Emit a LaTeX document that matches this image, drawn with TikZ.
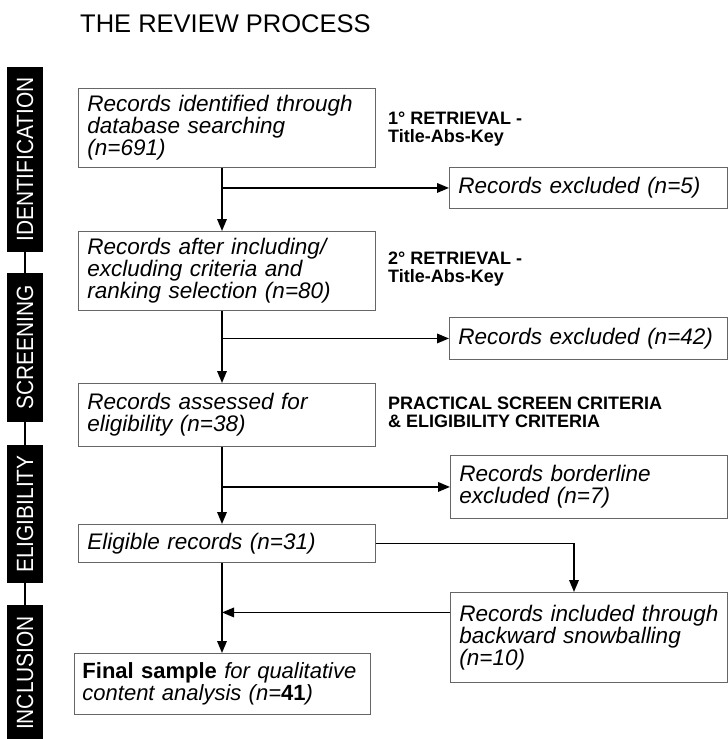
\documentclass[tikz,border=0pt]{standalone}
\usepackage{fontspec}
\setmainfont{Liberation Sans}
\usetikzlibrary{arrows.meta}
\newcommand\bxfont{\fontsize{22.5}{22}\selectfont\itshape}
\newcommand\brfont{\fontsize{23.5}{23.5}\selectfont}
\newcommand\lbfont{\fontsize{18}{17.5}\selectfont\bfseries}
\newcommand\narrow[1]{\scalebox{0.89}[1]{#1}}
\begin{document}
\begin{tikzpicture}[x=1pt,y=1pt,
  box/.style={draw=black!60, line width=0.9pt, anchor=north west, align=left,
              inner xsep=9pt, inner ysep=0pt, font=\bxfont},
  arr/.style={line width=1.8pt, -{Triangle[length=12pt,width=9.5pt]}},
  phase/.style={fill=black, rotate=90, inner sep=0pt, minimum height=36pt,
                text=white, font=\brfont},
  lab/.style={anchor=north west, align=left, inner sep=0pt, font=\lbfont}]
\useasboundingbox (0,0) rectangle (728,-739);

% title
\node[anchor=base west, inner sep=0pt, font=\fontsize{25.5}{26}\selectfont] (title) at (80,-32) {THE REVIEW PROCESS};

% phase bars
\node[phase, minimum width=185pt] (p1) at (25,-159.5) {\narrow{IDENTIFICATION}};
\node[phase, minimum width=149pt] (p2) at (25,-347.5) {\narrow{SCREENING}};
\node[phase, minimum width=138pt] (p3) at (25,-514) {\narrow{ELIGIBILITY}};
\node[phase, minimum width=136pt] (p4) at (25,-673) {\narrow{INCLUSION}};
\draw[line width=1.1pt] (p1.west) -- (p2.east);
\draw[line width=1.1pt] (p2.west) -- (p3.east);
\draw[line width=1.1pt] (p3.west) -- (p4.east);

% main boxes
\node[box, text width=279pt, minimum height=79pt] (b1) at (78,-88)
  {Records identified through\\database searching\\(n=691)};
\node[box, text width=279pt, minimum height=79pt] (b2) at (78,-231)
  {Records after including/\\excluding criteria and\\ranking selection (n=80)};
\node[box, text width=279pt, minimum height=63pt] (b3) at (78,-383)
  {Records assessed for\\eligibility (n=38)};
\node[box, text width=279pt, minimum height=38pt] (b4) at (78,-524)
  {Eligible records (n=31)};
\node[box, inner xsep=8pt, text width=280pt, minimum height=61pt,
      font=\fontsize{22}{22}\selectfont\itshape] (b6) at (74,-653)
  {\mbox{\textbf{\upshape Final sample} for qualitative}\\\mbox{content analysis (n=\textbf{\upshape 41})}};

% side boxes
\node[box, text width=260pt, minimum height=41pt] (e1) at (449,-167)
  {Records excluded (n=5)};
\node[box, text width=260pt, minimum height=42pt] (e2) at (449,-317)
  {Records excluded (n=42)};
\node[box, text width=259pt, minimum height=63pt] (e3) at (450,-455)
  {Records borderline\\excluded (n=7)};
\node[box, text width=259pt, minimum height=90pt] (e4) at (450,-592)
  {\mbox{Records included through}\\backward snowballing\\(n=10)};

% labels
\node[lab] (r1) at (388,-112) {1° RETRIEVAL -\\Title-Abs-Key};
\node[lab] (r2) at (388,-252) {2° RETRIEVAL -\\Title-Abs-Key};
\node[lab] (r3) at (388,-397) {PRACTICAL SCREEN CRITERIA\\\& ELIGIBILITY CRITERIA};

% connectors
\coordinate (sp) at (222,0);
\coordinate (sb) at (574,0);
\draw[arr] (b1.south -| sp) -- (b2.north -| sp);
\draw[arr] (sp |- e1.west) -- (e1.west);
\draw[arr] (b2.south -| sp) -- (b3.north -| sp);
\draw[arr] (sp |- e2.west) -- (e2.west);
\draw[arr] (b3.south -| sp) -- (b4.north -| sp);
\draw[arr] (sp |- e3.west) -- (e3.west);
\draw[arr] (b4.south -| sp) -- (b6.north -| sp);
\draw[arr] (b4.east) -| (sb |- e4.north);
\draw[arr] ([yshift=25pt]e4.west) -- ([yshift=25pt]e4.west -| sp);
\end{tikzpicture}
\end{document}
